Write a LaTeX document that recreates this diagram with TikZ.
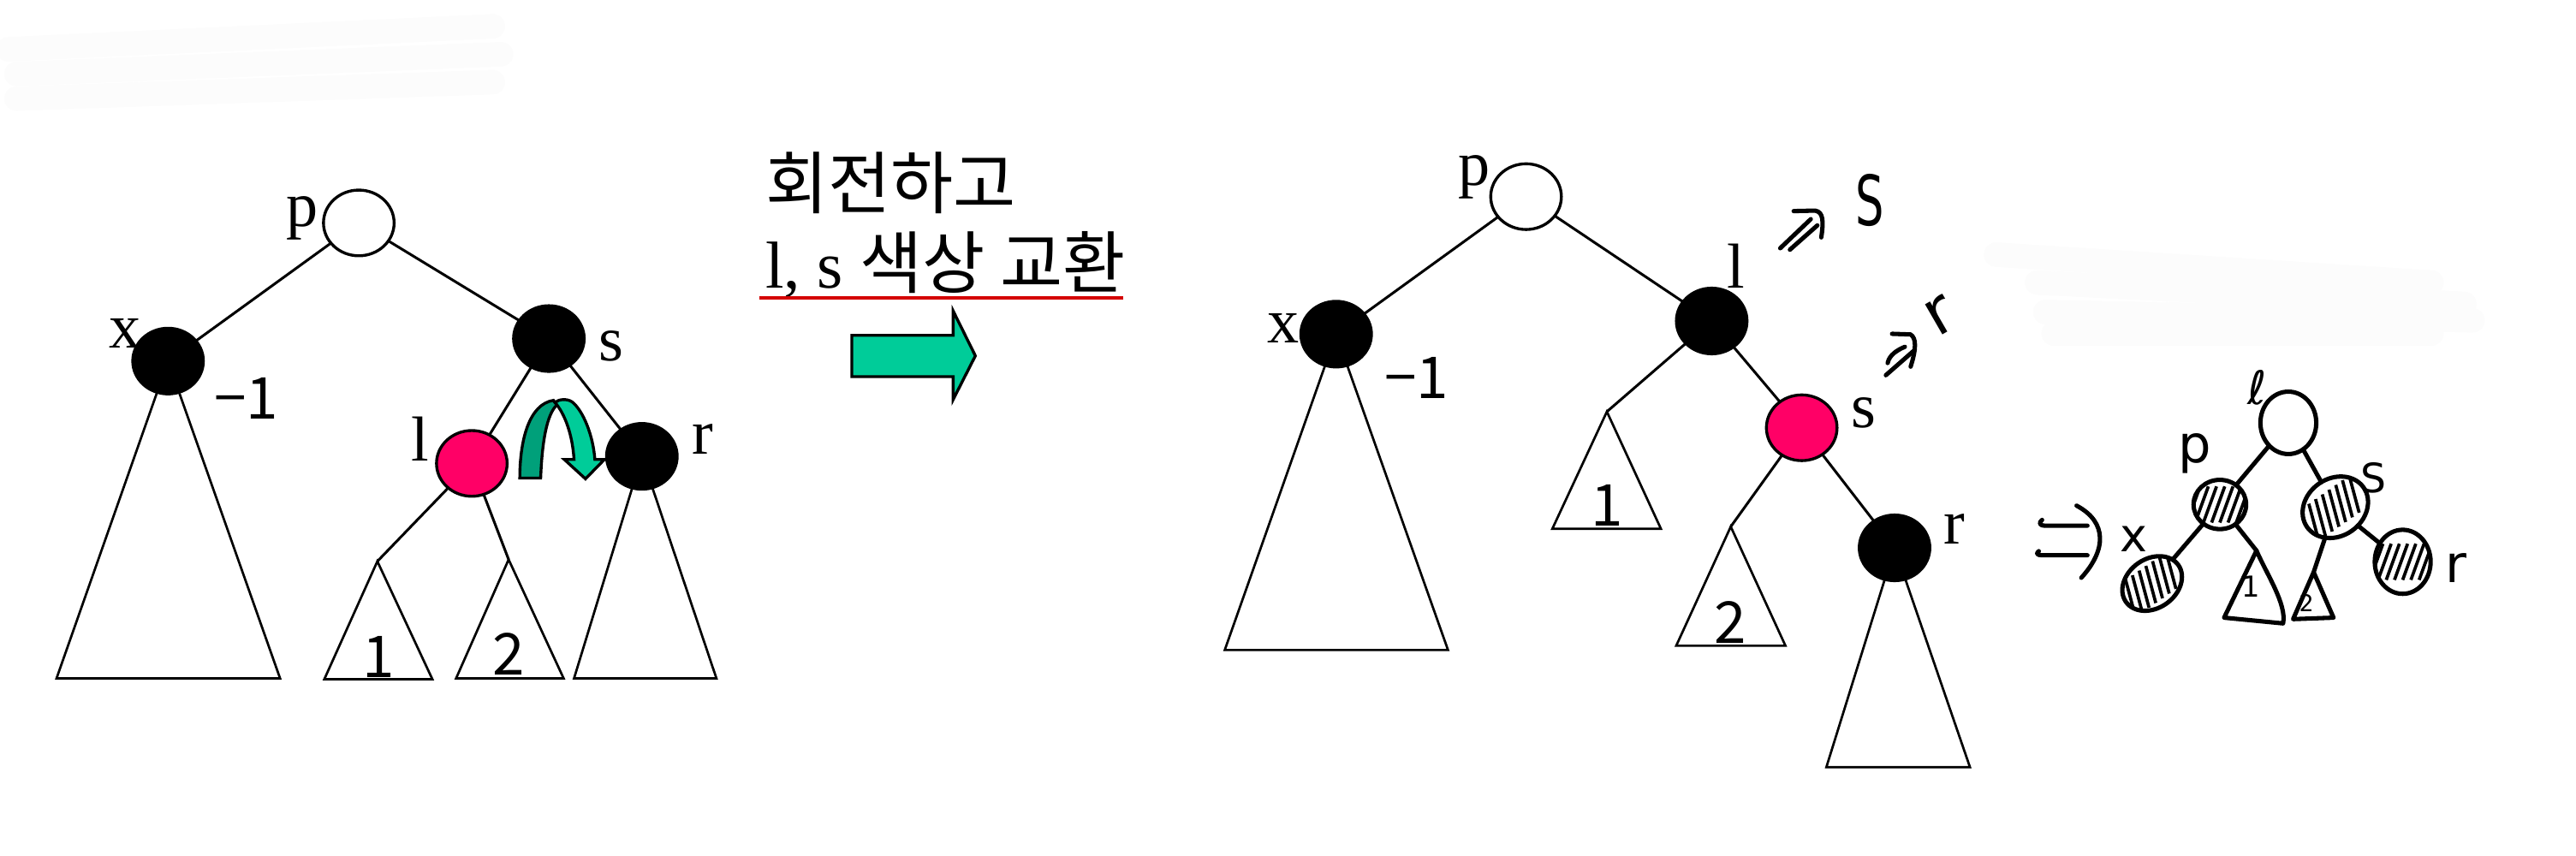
\documentclass[tikz,border=0pt]{standalone}
\usepackage{fontspec}
\setmainfont{Liberation Serif}
\newfontfamily\kr{Noto Sans CJK KR}
\newfontfamily\hand{DejaVu Sans}
\usepackage{tikz}
\usetikzlibrary{shapes.geometric,backgrounds,calc}
\definecolor{rbpink}{HTML}{FF0066}
\definecolor{arrowgreen}{HTML}{00CC99}
\definecolor{darkgreen}{HTML}{00A07A}
\definecolor{linered}{HTML}{D40000}
\definecolor{smudge}{HTML}{FCFCFC}

\begin{document}
\begin{tikzpicture}[x=0.1mm,y=-0.1mm,line width=0.45pt,
  every node/.style={inner sep=0pt,outer sep=0pt},
  rb/.style={ellipse,draw,minimum width=4.3mm,minimum height=4mm,line width=0.5pt},
  blk/.style={rb,fill=black},
  redn/.style={rb,fill=rbpink},
  wht/.style={rb,fill=white},
  lab/.style={font=\fontsize{11}{13}\selectfont},
  num/.style={font=\kr\fontsize{10}{12}\selectfont},
  hwtext/.style={font=\hand\fontsize{#1}{#1}\selectfont},
  hw/.style={line width=0.75pt,line cap=round,line join=round},
  sketch/.style={line width=0.75pt,line cap=round,line join=round},
  sk/.style={ellipse,draw,line width=0.75pt},
  hatched/.style={sk,path picture={
    \foreach \d in {-16,-11,...,14}{
      \draw[line width=0.55pt] ([xshift=\d*0.1mm-0.4mm,yshift=-1.1mm]path picture bounding box.center) -- ++(0.8mm,2.2mm);
    }}}
]
  \useasboundingbox (0,0) rectangle (1568,521);

  \foreach \a/\b/\c/\e in {5/30/300/16,10/45/305/33,10/60/300/50,1215/155/1480/172,1240/172/1500/185,1245/190/1505/195,1250/203/1480/203}{
    \draw[smudge,line width=1.5mm,line cap=round] (\a,\b) -- (\c,\e);
  }

  \node[wht] (bp) at (218.4,135.7) {};
  \node[blk] (bx) at (102.3,219.8) {};
  \node[blk] (bs) at (334.1,206.1) {};
  \node[redn] (bl) at (287.2,282.1) {};
  \node[blk] (br) at (390.7,277.8) {};
  \coordinate (bt1) at (229.7,341.7);
  \coordinate (bt2) at (309.6,340.6);
  \begin{scope}[on background layer]
    \draw (bx.center) -- (34.4,413) -- (170.5,413) -- cycle;
    \draw (bt1) -- (197.4,413.5) -- (263.2,413.5) -- cycle;
    \draw (bt2) -- (277.6,413) -- (343.1,413) -- cycle;
    \draw (br.center) -- (349.4,413) -- (436.1,413) -- cycle;
  \end{scope}
  \draw (bp) -- (bx);
  \draw (bp) -- (bs);
  \draw (bs) -- (bl);
  \draw (bs) -- (br);
  \draw (bl) -- (bt1);
  \draw (bl) -- (bt2);
  \node[lab] (bplab) at (184,133) {p};
  \node[lab] (bxlab) at (76.3,202.7) {x};
  \node[lab] (bslab) at (371.8,210.8) {s};
  \node[lab] (bllab) at (255.8,267.2) {l};
  \node[lab] (brlab) at (427.8,267.2) {r};
  \node[num] (bm1) at (149.9,242.5) {−1};
  \node[num] (bn1) at (230.3,400) {1};
  \node[num] (bn2) at (309.6,398) {2};

  \filldraw[fill=darkgreen,line width=0.5pt] (316.4,291) .. controls (316.4,268) and (322,246) .. (336.9,243.7)
    -- (339,246.5) .. controls (333,252) and (330,268) .. (329.1,291) -- cycle;
  \filldraw[fill=arrowgreen,line width=0.5pt] (337.8,245) .. controls (340,243) and (345,242.5) .. (348.2,244.6)
    .. controls (355,250) and (361,265) .. (362.1,279.7) -- (367.9,279.7) -- (356.4,291.5) -- (343.5,279.7)
    -- (349.4,279.7) .. controls (348.5,265) and (344,252) .. (337.8,245) -- cycle;

  \node[font=\kr\fontsize{11.8}{14}\selectfont,anchor=west] (cap1) at (466,111.2) {회전하고};
  \node[font=\fontsize{11.5}{14}\selectfont,anchor=west] (cap2) at (466,161) {l, s {\kr\fontsize{11.8}{14}\selectfont 색상 교환}};
  \draw[linered,line width=0.55pt] (462,181.2) -- (683.5,181.2);
  \filldraw[fill=arrowgreen,line width=0.5pt] (518.5,204.1) -- (580.2,204.1) -- (580.2,189.3) -- (593.7,216.6)
    -- (580.2,243.2) -- (580.2,229.3) -- (518.5,229.3) -- cycle;

  \node[wht] (ap) at (928.9,119.7) {};
  \node[blk] (ax) at (813.3,203.4) {};
  \node[blk] (al) at (1041.9,195.4) {};
  \node[redn] (as) at (1096.7,260.4) {};
  \node[blk] (ar) at (1153.2,333.5) {};
  \coordinate (at1) at (978.1,250.6);
  \coordinate (at2) at (1053.5,320.6);
  \begin{scope}[on background layer]
    \draw (ax.center) -- (745.5,395.7) -- (881.4,395.7) -- cycle;
    \draw (at1) -- (944.9,321.9) -- (1011,321.9) -- cycle;
    \draw (at2) -- (1020.3,393.1) -- (1086.8,393.1) -- cycle;
    \draw (ar.center) -- (1111.7,467) -- (1199.1,467) -- cycle;
  \end{scope}
  \draw (ap) -- (ax);
  \draw (ap) -- (al);
  \draw (al) -- (at1);
  \draw (al) -- (as);
  \draw (as) -- (at2);
  \draw (as) -- (ar);
  \node[lab] (aplab) at (897.3,108) {p};
  \node[lab] (axlab) at (781,200) {x};
  \node[lab] (allab) at (1056.8,162) {l};
  \node[lab] (aslab) at (1134.3,251.4) {s};
  \node[lab] (arlab) at (1189.8,321.9) {r};
  \node[num] (am1) at (862.4,229.8) {−1};
  \node[num] (an1) at (978.1,307.6) {1};
  \node[num] (an2) at (1053.5,378.9) {2};

  \draw[hw] (1083.6,151.1) -- (1102.2,133.4);
  \draw[hw] (1089.5,152) -- (1106.2,137.2);
  \draw[hw] (1091.8,128.5) -- (1104.8,128.2) .. controls (1110,129) and (1110,135) .. (1108.6,144.5);
  \node[hwtext=12,xscale=0.65] (hs1) at (1138,122) {S};
  \draw[hw] (1147.9,228.4) -- (1164.7,213.7);
  \draw[hw] (1149,221) .. controls (1150,216) and (1155,213) .. (1159.5,211.1);
  \draw[hw] (1151.7,203.2) -- (1163,203.6) .. controls (1166.5,206) and (1166.5,212) .. (1163,223.2);
  \node[hwtext=11,rotate=30] (hr1) at (1181,192) {r};

  \node[sk,fill=white,minimum width=3.4mm,minimum height=3.8mm] (hl) at (1392.9,257.4) {};
  \node[hatched,minimum width=3.2mm,minimum height=3mm] (hp) at (1351.2,307.1) {};
  \node[hatched,minimum width=4.2mm,minimum height=3.5mm,rotate=35] (hs) at (1421.5,308.8) {};
  \node[hatched,minimum width=3.9mm,minimum height=3mm,rotate=35] (hx) at (1310,355.2) {};
  \node[hatched,minimum width=3.4mm,minimum height=3.9mm] (hr) at (1462.5,342) {};
  \coordinate (ht1) at (1373.5,335.2);
  \coordinate (ht2) at (1408.3,348.3);
  \draw[sketch] (hl) -- (hp);
  \draw[sketch] (hl) -- (hs);
  \draw[sketch] (hp) -- (hx);
  \draw[sketch] (hp) -- (ht1);
  \draw[sketch] (hs) -- (ht2);
  \draw[sketch] (hs) -- (hr);
  \draw[sketch] (ht1) -- (1353.8,376) -- (1389.7,379.5) .. controls (1392,368) and (1380,350) .. (ht1);
  \draw[sketch] (ht2) -- (1395.8,376.9) -- (1420.4,376) -- cycle;
  \node[hwtext=8] (hllab) at (1374,236) {ℓ};
  \node[hwtext=9] (hplab) at (1336,276) {p};
  \node[hwtext=7] (hslab) at (1445,291) {S};
  \node[hwtext=8] (hxlab) at (1299,328) {x};
  \node[hwtext=9] (hrlab) at (1495,346) {r};
  \node[hwtext=5] (hn1) at (1370,357) {1};
  \node[hwtext=4] (hn2) at (1404,367) {2};
  \draw[hw] (1243,316.5) .. controls (1241,318) and (1241,320) .. (1245,320) -- (1270.6,320);
  \draw[hw] (1241,335.5) .. controls (1239,337) and (1240,338) .. (1243,338) -- (1270.6,338);
  \draw[hw] (1264,307.8) .. controls (1283,318) and (1282,335) .. (1266.9,351.7);
\end{tikzpicture}
\end{document}
